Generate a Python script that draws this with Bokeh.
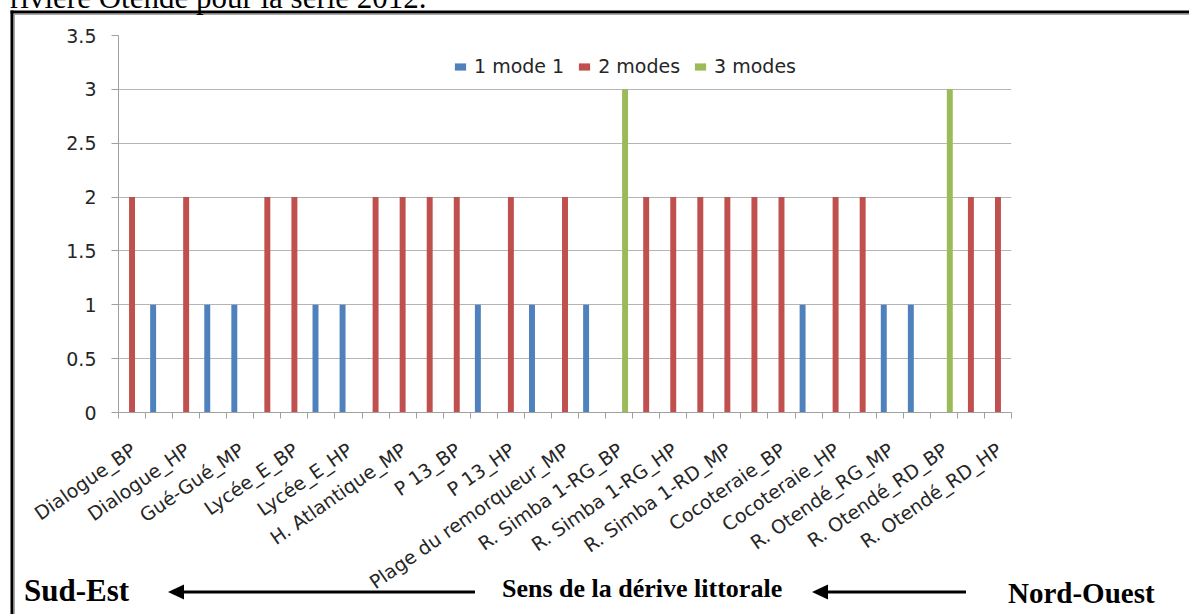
from math import radians
from bokeh.plotting import figure
from bokeh.models import (Range1d, FixedTicker, NumeralTickFormatter, ColumnDataSource,
                          GridBox, Div)
from bokeh.embed import file_html
from bokeh.resources import INLINE

# ---------------- data ----------------
categories = [
    "Dialogue_BP", "Dialogue_MP", "Dialogue_HP",
    "Gué-Gué_BP", "Gué-Gué_MP", "Gué-Gué_HP",
    "Lycée_E_BP", "Lycée_E_MP", "Lycée_E_HP",
    "H. Atlantique_BP", "H. Atlantique_MP", "H. Atlantique_HP",
    "P 13_BP", "P 13_MP", "P 13_HP",
    "Plage du remorqueur_BP", "Plage du remorqueur_MP", "Plage du remorqueur_HP",
    "R. Simba 1-RG_BP", "R. Simba 1-RG_MP", "R. Simba 1-RG_HP",
    "R. Simba 1-RD_BP", "R. Simba 1-RD_MP", "R. Simba 1-RD_HP",
    "Cocoteraie_BP", "Cocoteraie_MP", "Cocoteraie_HP",
    "R. Otendé_RG_BP", "R. Otendé_RG_MP", "R. Otendé_RG_HP",
    "R. Otendé_RD_BP", "R. Otendé_RD_MP", "R. Otendé_RD_HP",
]
mode1 = [0, 1, 0, 1, 1, 0, 0, 1, 1, 0, 0, 0, 0, 1, 0, 1, 0, 1, 0, 0, 0, 0, 0, 0, 0, 1, 0, 0, 1, 1, 0, 0, 0]
mode2 = [2, 0, 2, 0, 0, 2, 2, 0, 0, 2, 2, 2, 2, 0, 2, 0, 2, 0, 0, 2, 2, 2, 2, 2, 2, 0, 2, 2, 0, 0, 0, 2, 2]
mode3 = [0, 0, 0, 0, 0, 0, 0, 0, 0, 0, 0, 0, 0, 0, 0, 0, 0, 0, 3, 0, 0, 0, 0, 0, 0, 0, 0, 0, 0, 0, 3, 0, 0]
series_names = ["1 mode 1", "2 modes", "3 modes"]
series_colors = ["#4F81BD", "#C0504D", "#9BBB59"]
y_ticks = [0, 0.5, 1, 1.5, 2, 2.5, 3, 3.5]

caption_top = "rivière Otendé pour la série 2012."
dir_left = "Sud-Est"
dir_mid = "Sens de la dérive littorale"
dir_right = "Nord-Ouest"

# ---------------- chart figure ----------------
W, H = 1189, 614
FL, FT, FR, FB = 118, 35, 1011, 412  # frame edges in page pixels
n = len(categories)
YMAX = 3.5

p = figure(width=W, height=H, output_backend="svg", toolbar_location=None,
           x_range=Range1d(0, n), y_range=Range1d(0, YMAX),
           min_border_left=FL, min_border_right=W - FR,
           min_border_top=FT, min_border_bottom=H - FB)
p.outline_line_color = None
p.background_fill_color = "white"
p.border_fill_color = "white"
p.xgrid.visible = False
p.ygrid.grid_line_color = "#B5B5B5"
p.ygrid.grid_line_width = 1

AX = "#A0A0A0"
TXT = "#262626"
FONT = "DejaVu Sans"

p.yaxis.ticker = FixedTicker(ticks=y_ticks)
p.yaxis.formatter = NumeralTickFormatter(format="0.[0]")
p.yaxis.axis_line_color = AX
p.yaxis.major_tick_line_color = AX
p.yaxis.major_tick_out = 7
p.yaxis.major_tick_in = 0
p.yaxis.minor_tick_line_color = None
p.yaxis.major_label_standoff = 15
p.yaxis.major_label_text_font = FONT
p.yaxis.major_label_text_font_size = "19px"
p.yaxis.major_label_text_color = TXT

LBL_SHIFT = 0.05
label_pos = [i + 0.5 + LBL_SHIFT for i in range(0, n, 2)]
bounds = [float(i) for i in range(0, n + 1)]
p.xaxis.ticker = FixedTicker(ticks=label_pos, minor_ticks=bounds)
p.xaxis.major_label_overrides = {i + 0.5 + LBL_SHIFT: categories[i] for i in range(0, n, 2)}
p.xaxis.axis_line_color = AX
p.xaxis.major_tick_line_color = None
p.xaxis.major_tick_out = 0
p.xaxis.major_tick_in = 0
p.xaxis.minor_tick_line_color = AX
p.xaxis.minor_tick_out = 6
p.xaxis.minor_tick_in = 0
p.xaxis.major_label_orientation = radians(35)
p.xaxis.major_label_standoff = 29
p.xaxis.major_label_text_font = FONT
p.xaxis.major_label_text_font_size = "19px"
p.xaxis.major_label_text_color = TXT

offsets = [-0.22, 0.0, 0.22]
for vals, name, col, off in zip([mode1, mode2, mode3], series_names, series_colors, offsets):
    src = ColumnDataSource(dict(x=[i + 0.5 + off for i in range(n)], top=vals))
    p.vbar(x="x", top="top", width=0.22, source=src, fill_color=col,
           line_color=None, legend_label=name)

lg = p.legend[0]
lg.orientation = "horizontal"
lg.location = (335, 335)
lg.padding = 0
lg.margin = 0
lg.spacing = 13
lg.label_standoff = 7
lg.glyph_width = 14
lg.glyph_height = 9
lg.label_text_font = FONT
lg.label_text_font_size = "19px"
lg.label_text_color = TXT
lg.border_line_color = None
lg.background_fill_alpha = 0

# ---------------- page overlay: document frame, caption and drift arrows ----------------
AY = 592

def serif_text(x, y, s, size, bold):
    weight = "bold" if bold else "normal"
    return (f'<text x="{x}" y="{y}" fill="black" style="font-family: \'Liberation Serif\', '
            f'\'Times New Roman\', serif; font-size: {size}px; font-weight: {weight}; '
            f'font-style: normal;">{s}</text>')

parts = [
    f'<svg xmlns="http://www.w3.org/2000/svg" width="{W}" height="{H}" '
    f'style="display:block;position:absolute;left:0;top:0;overflow:visible">',
    f'<line x1="10.5" y1="12" x2="{W}" y2="12" stroke="black" stroke-width="3"/>',
    f'<line x1="12" y1="10.5" x2="12" y2="{H}" stroke="black" stroke-width="3"/>',
    f'<line x1="14" y1="14.5" x2="{W}" y2="14.5" stroke="#A8A8A8" stroke-width="1"/>',
    f'<line x1="14.5" y1="14" x2="14.5" y2="{H}" stroke="#A8A8A8" stroke-width="1"/>',
    serif_text(10, 8, caption_top, 31, False),
    serif_text(24, 601, dir_left, 31, True),
    serif_text(502, 597, dir_mid, 26, True),
    serif_text(1008, 603, dir_right, 29, True),
]
for xs, xe in [(475, 168), (966, 812)]:
    parts.append(f'<line x1="{xs}" y1="{AY}" x2="{xe + 10}" y2="{AY}" stroke="black" stroke-width="3"/>')
    parts.append(f'<polygon points="{xe},{AY} {xe + 16},{AY - 7.5} {xe + 16},{AY + 7.5}" fill="black"/>')
parts.append('</svg>')

overlay = Div(text="".join(parts), width=W, height=H, margin=0,
              styles={"position": "relative", "pointer-events": "none"})

layout = GridBox(children=[(p, 0, 0), (overlay, 0, 0)])
open("out.html", "w").write(file_html(layout, INLINE))
